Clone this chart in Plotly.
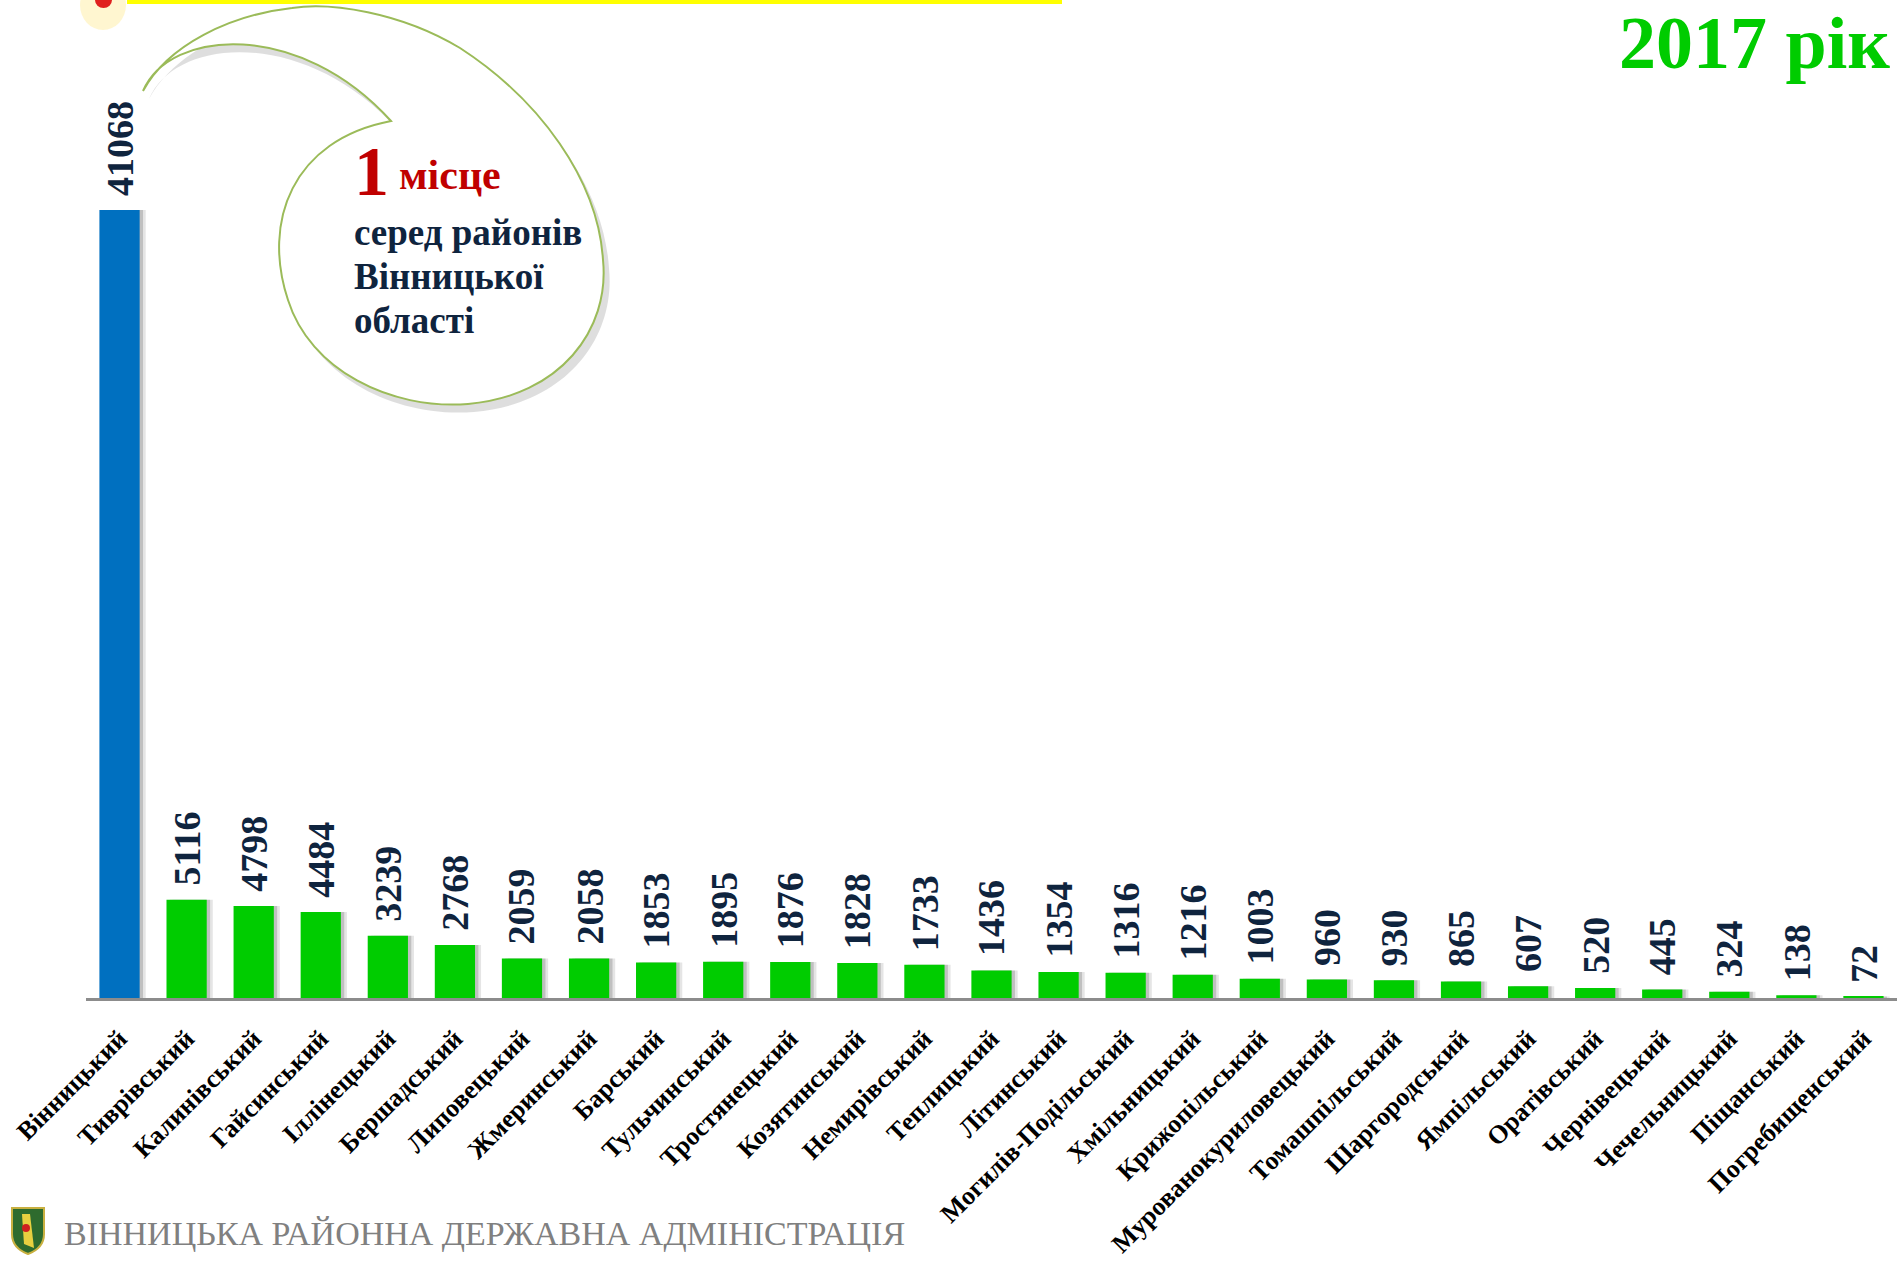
import plotly.graph_objects as go

# ---------------- data ----------------
districts = [
    "Вінницький", "Тиврівський", "Калинівський", "Гайсинський", "Іллінецький",
    "Бершадський", "Липовецький", "Жмеринський", "Барський", "Тульчинський",
    "Тростянецький", "Козятинський", "Немирівський", "Теплицький", "Літинський",
    "Могилів-Подільський", "Хмільницький", "Крижопільський", "Мурованокуриловецький",
    "Томашпільський", "Шаргородський", "Ямпільський", "Оратівський", "Чернівецький",
    "Чечельницький", "Піщанський", "Погребищенський",
]
values = [
    41068, 5116, 4798, 4484, 3239, 2768, 2059, 2058, 1853, 1895, 1876, 1828, 1733,
    1436, 1354, 1316, 1216, 1003, 960, 930, 865, 607, 520, 445, 324, 138, 72,
]
year_title = "2017 рік"
callout_rank = "1"
callout_rank_word = "місце"
callout_text = ["серед районів", "Вінницької", "області"]
footer_text = "ВІННИЦЬКА РАЙОННА ДЕРЖАВНА АДМІНІСТРАЦІЯ"

# ---------------- layout geometry ----------------
W, H = 1897, 1261
L, R, T, B = 86, 0, 0, 263
PW, PH = W - L - R, H - T - B
SERIF = "Liberation Serif, Times New Roman, serif"
NAVY = "#0F243E"

def fx(p):
    return (p - L) / PW

def fy(p):
    return (T + PH - p) / PH

def path_from(cmds):
    out = []
    for c in cmds:
        if isinstance(c, str):
            out.append(c)
        else:
            out.append(f"{fx(c[0]):.5f},{fy(c[1]):.5f}")
    return " ".join(out)

bar_colors = ["#0070C0" if i == 0 else "#00CC00" for i in range(len(values))]

fig = go.Figure()
# soft shadow of bars
fig.add_trace(go.Bar(x=districts, y=values, width=0.6, offset=-0.3 + 0.09,
                     marker=dict(color="rgba(0,0,0,0.10)", line_width=0),
                     hoverinfo="skip", showlegend=False))
fig.add_trace(go.Bar(x=districts, y=values, width=0.6, offset=-0.3 + 0.05,
                     marker=dict(color="rgba(0,0,0,0.16)", line_width=0),
                     hoverinfo="skip", showlegend=False))
fig.add_trace(go.Bar(x=districts, y=values, width=0.6, offset=-0.3,
                     marker=dict(color=bar_colors, line_width=0),
                     showlegend=False))

annotations = []
for d, v in zip(districts, values):
    annotations.append(dict(
        x=d, y=v, xref="x", yref="y", text=f"<b>{v}</b>", textangle=-90,
        showarrow=False, xanchor="center", yanchor="bottom", yshift=12,
        font=dict(family=SERIF, size=38, color=NAVY)))

# title
annotations.append(dict(x=fx(1892), y=fy(0), xref="paper", yref="paper",
                        xanchor="right", yanchor="top", showarrow=False,
                        text=f"<b>{year_title}</b>",
                        font=dict(family=SERIF, size=74, color="#00CC00")))
# callout texts
annotations.append(dict(x=fx(352), y=fy(171), xref="paper", yref="paper",
                        xanchor="left", yanchor="middle", showarrow=False,
                        text=f"<b>{callout_rank}</b>",
                        font=dict(family=SERIF, size=70, color="#C00000")))
annotations.append(dict(x=fx(397), y=fy(175), xref="paper", yref="paper",
                        xanchor="left", yanchor="middle", showarrow=False,
                        text=f"<b>{callout_rank_word}</b>",
                        font=dict(family=SERIF, size=42, color="#C00000")))
for i, line in enumerate(callout_text):
    annotations.append(dict(x=fx(352), y=fy(232 + 44 * i), xref="paper", yref="paper",
                            xanchor="left", yanchor="middle", showarrow=False,
                            text=f"<b>{line}</b>",
                            font=dict(family=SERIF, size=37, color=NAVY)))
# footer
annotations.append(dict(x=fx(62), y=fy(1233), xref="paper", yref="paper",
                        xanchor="left", yanchor="middle", showarrow=False,
                        text=footer_text,
                        font=dict(family=SERIF, size=34, color="#808080")))

bubble = [
    "M", (143, 91),
    "C", (170, 28), (300, 20), (391, 121),
    "C", (292, 140), (262, 222), (288, 300),
    "C", (310, 370), (390, 410), (468, 404),
    "C", (560, 396), (610, 330), (603, 260),
    "C", (598, 180), (540, 100), (460, 48),
    "C", (400, 12), (330, 2), (292, 8),
    "C", (230, 15), (168, 45), (143, 91),
    "Z",
]
bubble_shadow = [c if isinstance(c, str) else (c[0] + 6, c[1] + 8) for c in bubble]

shapes = [
    dict(type="path", xref="paper", yref="paper", path=path_from(bubble_shadow),
         fillcolor="rgba(0,0,0,0.13)", line=dict(width=0), layer="above"),
    dict(type="path", xref="paper", yref="paper", path=path_from(bubble),
         fillcolor="white", line=dict(color="#9BBB59", width=2), layer="above"),
    # yellow top rule
    dict(type="rect", xref="paper", yref="paper", x0=fx(127), x1=fx(1062),
         y0=fy(0), y1=fy(4), fillcolor="#FFFF00", line=dict(width=0), layer="above"),
    # top-left emblem remnant
    dict(type="circle", xref="paper", yref="paper", x0=fx(80), x1=fx(126),
         y0=fy(-20), y1=fy(30), fillcolor="rgba(255,230,120,0.35)", line=dict(width=0)),
    dict(type="circle", xref="paper", yref="paper", x0=fx(95), x1=fx(112),
         y0=fy(-8), y1=fy(8), fillcolor="#E0201E", line=dict(width=0)),
    # footer emblem (shield)
    dict(type="path", xref="paper", yref="paper",
         path=path_from(["M", (12, 1208), "L", (44, 1208), "L", (44, 1234),
                         "Q", (44, 1248), (28, 1254), "Q", (12, 1248), (12, 1234), "Z"]),
         fillcolor="#2E6B2E", line=dict(color="#C8B040", width=2)),
    dict(type="path", xref="paper", yref="paper",
         path=path_from(["M", (22, 1214), "L", (30, 1214), "L", (34, 1248),
                         "L", (24, 1244), "Z"]),
         fillcolor="#E8D040", line=dict(width=0)),
    dict(type="circle", xref="paper", yref="paper", x0=fx(22), x1=fx(30),
         y0=fy(1232), y1=fy(1224), fillcolor="#D02020", line=dict(width=0)),
]

ymax = max(values) * PH / 788.0

fig.update_layout(
    width=W, height=H,
    margin=dict(l=L, r=R, t=T, b=B),
    paper_bgcolor="white", plot_bgcolor="white",
    barmode="overlay",
    annotations=annotations,
    shapes=shapes,
    xaxis=dict(range=[-0.5, len(values) - 0.5], showgrid=False, zeroline=False,
               showline=True, linecolor="#8C8C8C", linewidth=3,
               ticks="outside", ticklen=12, tickcolor="rgba(0,0,0,0)",
               tickangle=-45,
               tickfont=dict(family=SERIF, size=26, color="black", weight="bold")),
    yaxis=dict(range=[0, ymax], visible=False, showgrid=False, zeroline=False),
)

fig.write_html(
    "out.html",
    config={"displayModeBar": False},
    post_script="document.body.style.margin='0';document.body.style.overflow='hidden';",
)
